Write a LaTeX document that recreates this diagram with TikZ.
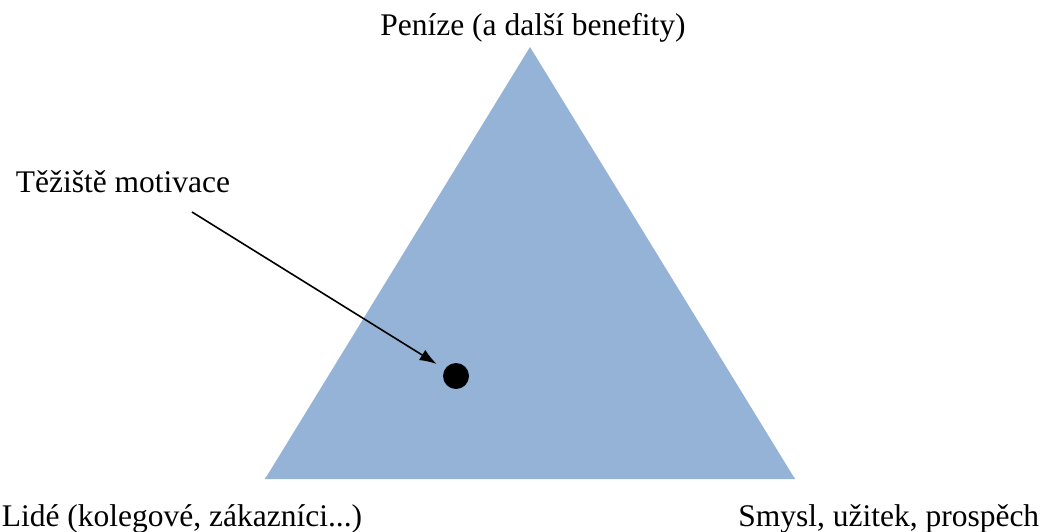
\documentclass[tikz,border=0pt]{standalone}
\usepackage{fontspec}
\setmainfont{Liberation Serif}
\usetikzlibrary{arrows.meta}
\definecolor{triblue}{RGB}{149,179,215}

\begin{document}
\begin{tikzpicture}[x=1pt,y=-1pt,line width=1.6pt,font=\fontsize{31.5}{36}\selectfont]
 \useasboundingbox (0,0) rectangle (1043,531);
 \coordinate (top) at (530,47);
 \coordinate (lb) at (265,479);
 \coordinate (rb) at (795,479);
 \fill[black!15] ([yshift=2pt]lb)--([yshift=2pt]rb)--(rb)--(lb)--cycle;
 \fill[triblue] (top)--(rb)--(lb)--cycle;
 \node[anchor=base] (penize) at (533,35) {Peníze (a další benefity)};
 \foreach \x/\anc/\nm/\lab in {1/base west/lide/{Lidé (kolegové, zákazníci...)},1040/base east/smysl/{Smysl, užitek, prospěch}}{%
   \node[anchor=\anc,inner sep=0pt] (\nm) at (\x,526) {\lab};
 }
 \node[circle,fill=black,minimum size=26pt,inner sep=0pt] (dot) at (456,376) {};
 \node[anchor=base west,inner sep=0pt] (teziste) at (15,192) {Těžiště motivace};
 \coordinate (from) at (192,212);
 \draw[-{Latex[length=17pt,width=12pt]},shorten >=9pt] (from) -- (dot);
\end{tikzpicture}
\end{document}
